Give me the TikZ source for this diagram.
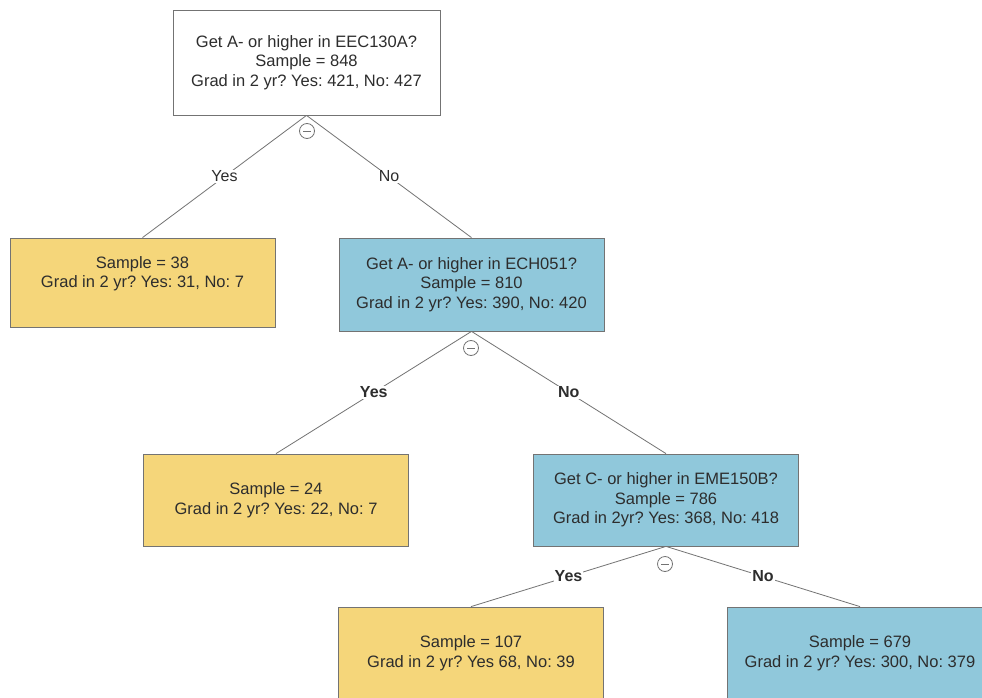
\documentclass[tikz,border=0pt]{standalone}
\usepackage{fontspec}
\setmainfont{Liberation Sans}
\usepackage{tikz}
\usetikzlibrary{positioning}
\frenchspacing
\definecolor{leafYellow}{RGB}{245,214,122}
\definecolor{splitBlue}{RGB}{144,200,219}
\definecolor{edgeGray}{RGB}{115,115,115}
\definecolor{darkText}{RGB}{45,45,45}
\tikzset{
    comp/.style={rectangle, draw=edgeGray, fill=#1, thick, align=center, text=darkText,
                 minimum width=265pt, minimum height=92pt, inner sep=2pt,
                 font=\fontsize{16.5}{19.5}\selectfont},
    comp/.default=white,
    edge/.style={draw=edgeGray, thick},
    lbl/.style={fill=white, inner sep=1pt, text=darkText, font=\fontsize{16}{19}\selectfont},
    blbl/.style={lbl, font=\fontsize{16}{19}\selectfont\bfseries},
    minus/.style={circle, draw=edgeGray, fill=white, thick, minimum size=15pt, inner sep=0pt,
                  path picture={\draw[edgeGray, thick] ([xshift=-4pt]path picture bounding box.center)
                                -- ([xshift=4pt]path picture bounding box.center);}}
}
\begin{document}
\begin{tikzpicture}[x=1pt, y=-1pt]
    \path[use as bounding box, clip] (0,0) rectangle (982,698);
    \fill[white] (0,0) rectangle (982,698);
    % split nodes
    \node[comp, minimum width=267pt, minimum height=105pt] (root) at (306.5,62.5)
        {Get A- or higher in EEC130A?\\Sample = 848\\Grad in 2 yr? Yes: 421, No: 427};
    \node[comp=splitBlue, minimum height=93pt] (ech) at (471.5,284.5)
        {Get A- or higher in ECH051?\\Sample = 810\\Grad in 2 yr? Yes: 390, No: 420};
    \node[comp=splitBlue] (eme) at (666,500)
        {Get C- or higher in EME150B?\\Sample = 786\\Grad in 2yr? Yes: 368, No: 418};
    % leaves
    \node[comp=leafYellow, minimum height=89pt] (leafA) at (142.5,282.5)
        {Sample = 38\\Grad in 2 yr? Yes: 31, No: 7\\[-4pt]\strut};
    \node[comp=leafYellow] (leafB) at (276,500)
        {Sample = 24\\Grad in 2 yr? Yes: 22, No: 7};
    \node[comp=leafYellow] (leafC) at (471,653)
        {Sample = 107\\Grad in 2 yr? Yes 68, No: 39};
    \node[comp=splitBlue] (leafD) at (860,653)
        {Sample = 679\\Grad in 2 yr? Yes: 300, No: 379};
    % branches
    \foreach \from/\to in {root/leafA, ech/leafB, eme/leafC} {
        \draw[edge] (\from.south) -- node[pos=0.5, coordinate] (\from yes) {} (\to.north);
    }
    \foreach \from/\to in {root/ech, ech/eme, eme/leafD} {
        \draw[edge] (\from.south) -- node[pos=0.5, coordinate] (\from no) {} (\to.north);
    }
    \node[lbl] (yesA) at (rootyes) {Yes};
    \node[lbl] (noA) at (rootno) {No};
    \node[blbl] (yesB) at (echyes) {Yes};
    \node[blbl] (noB) at (echno) {No};
    \node[blbl] (yesC) at (emeyes) {Yes};
    \node[blbl] (noC) at (emeno) {No};
    % collapse markers
    \node[minus] (minusA) at (307,131) {};
    \node[minus] (minusB) at (471,348) {};
    \node[minus] (minusC) at (665,564) {};
\end{tikzpicture}
\end{document}
